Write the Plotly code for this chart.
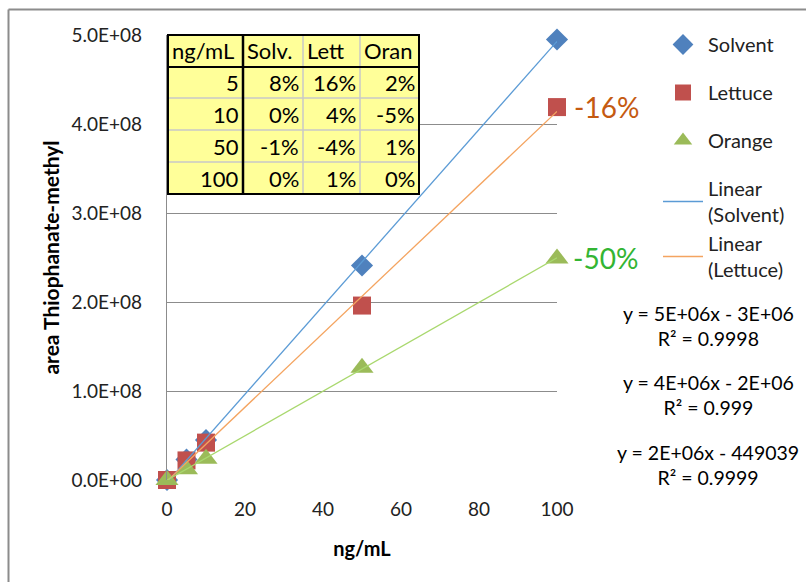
import numpy as np
import plotly.graph_objects as go

# ---------------- data ----------------
conc = [0, 5, 10, 50, 100]
solvent = [0.0, 2.3e7, 4.5e7, 2.41e8, 4.95e8]
lettuce = [0.0, 2.2e7, 4.2e7, 1.96e8, 4.19e8]
orange = [0.0, 1.2e7, 2.4e7, 1.26e8, 2.49e8]

table_header = ["ng/mL", "Solv.", "Lett", "Oran"]
table_conc = ["5", "10", "50", "100"]
table_solv = ["8%", "0%", "-1%", "0%"]
table_lett = ["16%", "4%", "-4%", "1%"]
table_oran = ["2%", "-5%", "1%", "0%"]

eq_texts = ["y = 5E+06x - 3E+06<br>R² = 0.9998",
            "y = 4E+06x - 2E+06<br>R² = 0.999",
            "y = 2E+06x - 449039<br>R² = 0.9999"]
diff_lett = "-16%"
diff_oran = "-50%"

x_ticks = [0, 20, 40, 60, 80, 100]
y_ticks = [0, 1e8, 2e8, 3e8, 4e8, 5e8]
y_tick_text = ["0.0E+00", "1.0E+08", "2.0E+08", "3.0E+08", "4.0E+08", "5.0E+08"]

# ---------------- layout geometry ----------------
W, H = 806, 582
L, R, T, B = 167, 557, 35, 480
FONT = "Lato, 'Open Sans', sans-serif"

def px_x(p):
    return (p - L) / (R - L)

def px_y(p):
    return (B - p) / (B - T)

C_BLUE = "#4F81BD"
C_RED = "#C0504D"
C_GREEN = "#9BBB59"
C_BLUE_L = "#5B9BD5"
C_ORANGE_L = "#F4A460"
C_GREEN_L = "#A9D86E"

fig = go.Figure()

series = [("Solvent", solvent, C_BLUE, "diamond", 17),
          ("Lettuce", lettuce, C_RED, "square", 18),
          ("Orange", orange, C_GREEN, "triangle-up", 20)]

for i, (name, ys, col, sym, sz) in enumerate(series):
    fig.add_trace(go.Scatter(
        x=conc, y=ys, mode="markers", name=name,
        marker=dict(color=col, symbol=sym, size=sz, line=dict(width=0)),
        cliponaxis=False, legendgroup=f"g{i}"))

trend_cols = [C_BLUE_L, C_ORANGE_L, C_GREEN_L]
for i, (name, ys, col, sym, sz) in enumerate(series):
    m, c = np.polyfit(conc, ys, 1)
    xs = np.array([0, 100])
    fig.add_trace(go.Scatter(
        x=xs, y=m * xs + c, mode="lines",
        name=f"Linear<br>({name})",
        line=dict(color=trend_cols[i], width=1.3),
        showlegend=(i < 2), legendgroup="trend", cliponaxis=False))

shapes = []
annotations = []

# chart border
shapes.append(dict(type="line", xref="paper", yref="paper",
                   x0=px_x(8.5), x1=px_x(8.5), y0=px_y(9.5), y1=px_y(600),
                   line=dict(color="#8c8c8c", width=2)))
shapes.append(dict(type="line", xref="paper", yref="paper",
                   x0=px_x(8.5), x1=px_x(820), y0=px_y(9.5), y1=px_y(9.5),
                   line=dict(color="#8c8c8c", width=2)))

# table
col_edges = [168, 243, 303, 360, 419]
row_edges = [35, 67, 98, 130, 162, 194]
shapes.append(dict(type="rect", xref="paper", yref="paper",
                   x0=px_x(col_edges[0]), x1=px_x(col_edges[-1]),
                   y0=px_y(row_edges[0]), y1=px_y(row_edges[-1]),
                   fillcolor="#FFFF99", line=dict(width=0), layer="above"))
for xe in col_edges[2:-1]:
    shapes.append(dict(type="line", xref="paper", yref="paper",
                       x0=px_x(xe), x1=px_x(xe), y0=px_y(row_edges[0]), y1=px_y(row_edges[-1]),
                       line=dict(color="#C8C8C8", width=1.5), layer="above"))
for ye in row_edges[2:-1]:
    shapes.append(dict(type="line", xref="paper", yref="paper",
                       x0=px_x(col_edges[0]), x1=px_x(col_edges[-1]), y0=px_y(ye), y1=px_y(ye),
                       line=dict(color="#C8C8C8", width=1.5), layer="above"))
shapes.append(dict(type="line", xref="paper", yref="paper",
                   x0=px_x(col_edges[1]), x1=px_x(col_edges[1]), y0=px_y(row_edges[0]), y1=px_y(row_edges[-1]),
                   line=dict(color="black", width=2.5), layer="above"))
shapes.append(dict(type="line", xref="paper", yref="paper",
                   x0=px_x(col_edges[0]), x1=px_x(col_edges[-1]), y0=px_y(row_edges[1]), y1=px_y(row_edges[1]),
                   line=dict(color="black", width=2), layer="above"))
shapes.append(dict(type="rect", xref="paper", yref="paper",
                   x0=px_x(col_edges[0]), x1=px_x(col_edges[-1]),
                   y0=px_y(row_edges[0]), y1=px_y(row_edges[-1]),
                   line=dict(color="black", width=2), layer="above"))

tf = dict(family=FONT, size=22, color="black")
for j, h in enumerate(table_header):
    annotations.append(dict(xref="paper", yref="paper", x=px_x(col_edges[j] + 2),
                            y=px_y((row_edges[0] + row_edges[1]) / 2), text=h,
                            xanchor="left", yanchor="middle", showarrow=False, font=tf))
cols = [table_conc, table_solv, table_lett, table_oran]
for j, colvals in enumerate(cols):
    for r, v in enumerate(colvals):
        annotations.append(dict(xref="paper", yref="paper", x=px_x(col_edges[j + 1] - 2),
                                y=px_y((row_edges[r + 1] + row_edges[r + 2]) / 2), text=v,
                                xanchor="right", yanchor="middle", showarrow=False, font=tf))

# difference labels
annotations.append(dict(x=100, y=lettuce[-1], xref="x", yref="y", text=diff_lett,
                        xanchor="left", yanchor="middle", xshift=15, showarrow=False,
                        font=dict(family=FONT, size=28, color="#C55A11")))
annotations.append(dict(x=100, y=orange[-1], xref="x", yref="y", text=diff_oran,
                        xanchor="left", yanchor="middle", xshift=14, showarrow=False,
                        font=dict(family=FONT, size=28, color="#33B533")))

# trendline equations
eq_y = [326, 395, 465]
for t, yy in zip(eq_texts, eq_y):
    annotations.append(dict(xref="paper", yref="paper", x=px_x(708), y=px_y(yy), text=t,
                            xanchor="center", yanchor="middle", align="center", showarrow=False,
                            font=dict(family=FONT, size=19.5, color="black")))

fig.update_layout(
    width=W, height=H,
    margin=dict(l=L, r=W - R, t=T, b=H - B),
    paper_bgcolor="white", plot_bgcolor="white",
    font=dict(family=FONT, size=19, color="#222"),
    showlegend=True,
    legend=dict(x=px_x(658), y=px_y(25), xanchor="left", yanchor="top",
                font=dict(family=FONT, size=20, color="#222"),
                traceorder="grouped", tracegroupgap=19, itemwidth=40,
                maxheight=1, bgcolor="rgba(0,0,0,0)"),
    shapes=shapes, annotations=annotations,
    xaxis=dict(range=[0, 100], tickvals=x_ticks, showgrid=False, zeroline=False,
               showline=False, ticks="", ticklabelstandoff=16,
               tickfont=dict(family=FONT, size=19, color="#222"),
               title=dict(text="<b>ng/mL</b>", font=dict(family=FONT, size=20, color="black"),
                          standoff=22)),
    yaxis=dict(range=[0, 5e8], tickvals=y_ticks, ticktext=y_tick_text,
               showgrid=True, gridcolor="#8c8c8c", gridwidth=1.3, zeroline=False,
               showline=True, linecolor="#8c8c8c", linewidth=1.3, ticks="",
               ticklabelstandoff=20,
               tickfont=dict(family=FONT, size=19, color="#222"),
               title=dict(text="<b>area Thiophanate-methyl</b>",
                          font=dict(family=FONT, size=21, color="black"), standoff=6)),
)

fig.write_html("out.html")
